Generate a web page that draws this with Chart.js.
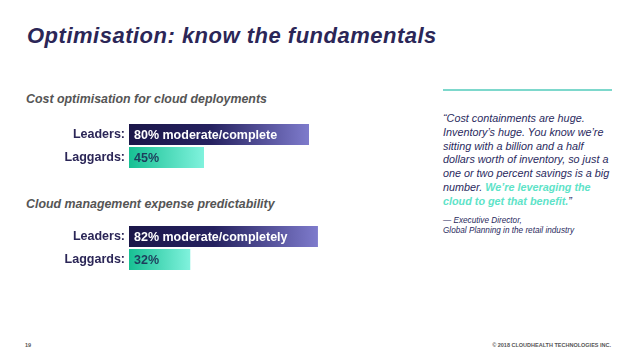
<!DOCTYPE html>
<html>
<head>
<meta charset="utf-8">
<script src="https://cdn.jsdelivr.net/npm/chart.js@4"></script>
<style>
  html, body { margin: 0; padding: 0; background: #fff; }
  body { width: 638px; height: 359px; position: relative; overflow: hidden;
         font-family: "Liberation Sans", Arial, sans-serif; }
  .abs { position: absolute; white-space: nowrap; }
  #title { left: 27px; top: 25px; font: italic bold 22px/22px "Liberation Sans", Arial, sans-serif; letter-spacing: 0.5px; color: #2b2657; }
  .sub { left: 26px; font: italic bold 12.4px/12.4px "Liberation Sans", Arial, sans-serif; color: #555; }
  #rule { left: 443px; top: 89px; width: 169px; height: 2px; background: #7dd8cc; }
  #quote { left: 443px; top: 112px; font: italic 10.8px/13.8px "Liberation Sans", Arial, sans-serif; color: #2a2a5e; }
  #quote b { color: #5ee3c8; }
  #who { left: 443px; top: 216px; font: italic 8.2px/10px "Liberation Sans", Arial, sans-serif; color: #2a2a5e; }
  .foot { top: 342px; font: bold 5.5px/6px "Liberation Sans", Arial, sans-serif; color: #555; }
  canvas { position: absolute; left: 0; }
</style>
</head>
<body>
<div id="title" class="abs">Optimisation: know the fundamentals</div>
<div class="abs sub" style="top:93px">Cost optimisation for cloud deployments</div>
<div class="abs sub" style="top:198px">Cloud management expense predictability</div>
<div id="rule" class="abs"></div>
<div id="quote" class="abs">“Cost containments are huge.<br>Inventory’s huge. You know we’re<br>sitting with a billion and a half<br>dollars worth of inventory, so just a<br>one or two percent savings is a big<br>number. <b>We’re leveraging the<br>cloud to get that benefit.</b>”</div>
<div id="who" class="abs">— Executive Director,<br>Global Planning in the retail industry</div>
<div class="abs foot" style="left:25px">19</div>
<div class="abs foot" style="right:27px">© 2018 CLOUDHEALTH TECHNOLOGIES INC.</div>

<canvas id="costChart" width="369" height="46" style="top:123px"></canvas>
<canvas id="expenseChart" width="369" height="46" style="top:225px"></canvas>

<script>
// data
const categories = ["Leaders:", "Laggards:"];
const costValues = [80, 45];
const costLabels = ["80% moderate/complete", "45%"];
const expenseValues = [82, 32];
const expenseLabels = ["82% moderate/completely", "32%"];
const costRange = [20, 100];
const expenseRange = [8, 102];

// gradient per bar, from the left of the plot to the bar end
function barFill(ctx) {
  const chart = ctx.chart;
  const area = chart.chartArea;
  if (!area) return "#2b2657";
  const xEnd = chart.scales.x.getPixelForValue(ctx.raw);
  const g = chart.ctx.createLinearGradient(area.left, 0, xEnd, 0);
  if (ctx.dataIndex === 0) {
    g.addColorStop(0, "#1b1749");
    g.addColorStop(0.45, "#25215f");
    g.addColorStop(1, "#7e7bcc");
  } else {
    g.addColorStop(0, "#17c093");
    g.addColorStop(1, "#80f2dd");
  }
  return g;
}

// text written inside the bars
const barText = {
  id: "barText",
  afterDatasetsDraw(chart, args, opts) {
    const c = chart.ctx;
    const meta = chart.getDatasetMeta(0);
    c.save();
    c.font = "bold 12.5px 'Liberation Sans', Arial, sans-serif";
    c.textBaseline = "middle";
    c.textAlign = "left";
    meta.data.forEach((bar, i) => {
      c.fillStyle = i === 0 ? "#ffffff" : "#1d3d5c";
      c.fillText(opts.labels[i], chart.chartArea.left + 5, bar.y + 1);
    });
    c.restore();
  }
};

function makeChart(id, values, labels, range) {
  new Chart(document.getElementById(id), {
    type: "bar",
    data: {
      labels: categories,
      datasets: [{
        data: values,
        backgroundColor: barFill,
        borderWidth: 0,
        barPercentage: 21 / 23,
        categoryPercentage: 1
      }]
    },
    options: {
      indexAxis: "y",
      responsive: false,
      animation: false,
      events: [],
      layout: { padding: 0, autoPadding: false },
      plugins: { legend: { display: false }, tooltip: { enabled: false }, barText: { labels: labels } },
      scales: {
        x: { display: false, min: range[0], max: range[1] },
        y: {
          grid: { display: false, drawTicks: false },
          border: { display: false },
          ticks: { color: "#2b2657", padding: 4, font: { family: "'Liberation Sans', Arial, sans-serif", size: 12.5, weight: "bold" } },
          afterFit(scale) {
            scale.width = 129;
            scale.paddingTop = 0;
            scale.paddingBottom = 0;
          }
        }
      }
    },
    plugins: [barText]
  });
}

makeChart("costChart", costValues, costLabels, costRange);
makeChart("expenseChart", expenseValues, expenseLabels, expenseRange);
</script>
</body>
</html>
